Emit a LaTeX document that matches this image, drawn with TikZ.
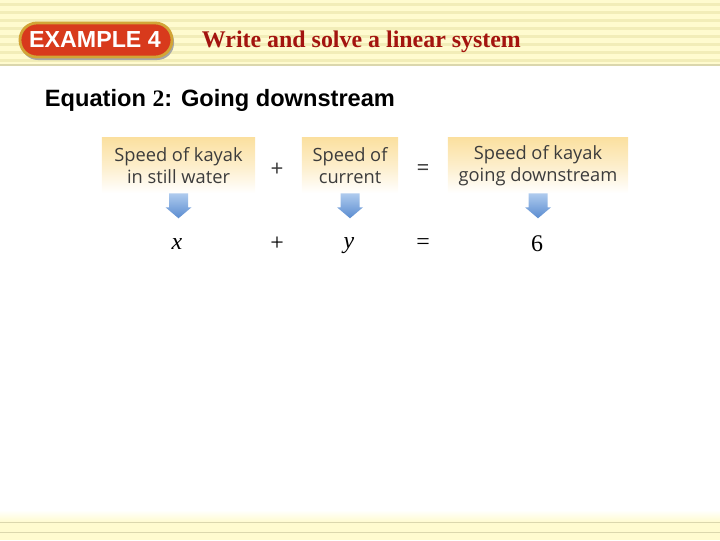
\documentclass[tikz,border=0pt]{standalone}
\usepackage{fontspec}
\setmainfont{Liberation Serif}
\setsansfont{Liberation Sans}
\newfontfamily\boxfont{Open Sans}
\usetikzlibrary{positioning}
\definecolor{bandyellow}{HTML}{FFFBCF}
\definecolor{bandline}{HTML}{F2EDB8}
\definecolor{badgered}{HTML}{D83A1C}
\definecolor{badgegold}{HTML}{D2A536}
\definecolor{titlered}{HTML}{A3140F}
\definecolor{boxtop}{HTML}{FBE0A0}
\definecolor{boxtext}{HTML}{3C3C3C}
\definecolor{arrowtop}{HTML}{AFCBEE}
\definecolor{arrowbot}{HTML}{5A8CD0}
\begin{document}
\begin{tikzpicture}[x=0.025cm,y=-0.025cm,
    wordbox/.style={top color=boxtop, bottom color=white, middle color=boxtop!55,
      minimum height=1.375cm, inner sep=0pt, align=center,
      font=\boxfont\fontsize{13}{15.5}\selectfont, text=boxtext},
    downarrow/.pic={\shade[top color=arrowtop, bottom color=arrowbot]
      (-9.5,0) -- (9.5,0) -- (9.5,14) -- (13,14) -- (0,25) -- (-13,14) -- (-9.5,14) -- cycle;},
    sign/.style={font=\boxfont\fontsize{16}{19}\selectfont, text=boxtext},
    term/.style={font=\fontsize{17}{20}\selectfont}]
\useasboundingbox (0,0) rectangle (720,540);

% header band
\fill[bandyellow] (0,0) rectangle (720,65);
\foreach \y in {3,11,...,59}
  \fill[bandline] (0,\y) rectangle (720,\y+3);
\fill[bandline!80!gray] (0,64) rectangle (720,65.5);

% footer band
\shade[top color=white, bottom color=bandyellow] (0,510) rectangle (720,522);
\fill[bandyellow] (0,522) rectangle (720,540);
\fill[bandline!80!gray] (0,521.5) rectangle (720,522.5);
\fill[bandline!80!gray] (0,531.5) rectangle (720,532.5);

% badge and title
\fill[black!35, rounded corners=0.42cm] (21,25) rectangle (174,60);
\draw[badgegold, line width=2pt, fill=badgered, rounded corners=0.42cm] (20,23) rectangle (172,57);
\node[text=white, font=\sffamily\bfseries\fontsize{16.5}{19}\selectfont] (badge) at (95,40) {EXAMPLE 4};
\node[anchor=west, text=titlered, font=\bfseries\fontsize{17}{20}\selectfont] (title) at (197,42)
  {Write and solve a linear system};

\node[anchor=west, font=\sffamily\bfseries\fontsize{16.8}{20}\selectfont] (eqn) at (40,100)
  {Equation {\rmfamily 2}: Going downstream};

% word boxes
\node[wordbox, minimum width=3.825cm] (b1) at (178.5,165.5) {Speed of kayak\\in still water};
\node[wordbox, minimum width=2.4cm] (b2) at (350,165.5) {Speed of\\current};
\node[wordbox, minimum width=4.5cm] (b3) at (538,165.5) {Speed of kayak\\going downstream};
\node[sign] (p1) at (277,170) {+};
\node[sign] (e1) at (423,170) {=};

% arrows
\pic at (b1.south) {downarrow};
\pic at (b2.south) {downarrow};
\pic at (b3.south) {downarrow};

% equation
\node[term] (vx) at (177,244) {\textit{x}};
\node[term] (p2) at (277,244) {+};
\node[term] (vy) at (349,246) {\textit{y}};
\node[term] (e2) at (423,244) {=};
\node[term] (v6) at (537,244) {6};
\end{tikzpicture}
\end{document}
